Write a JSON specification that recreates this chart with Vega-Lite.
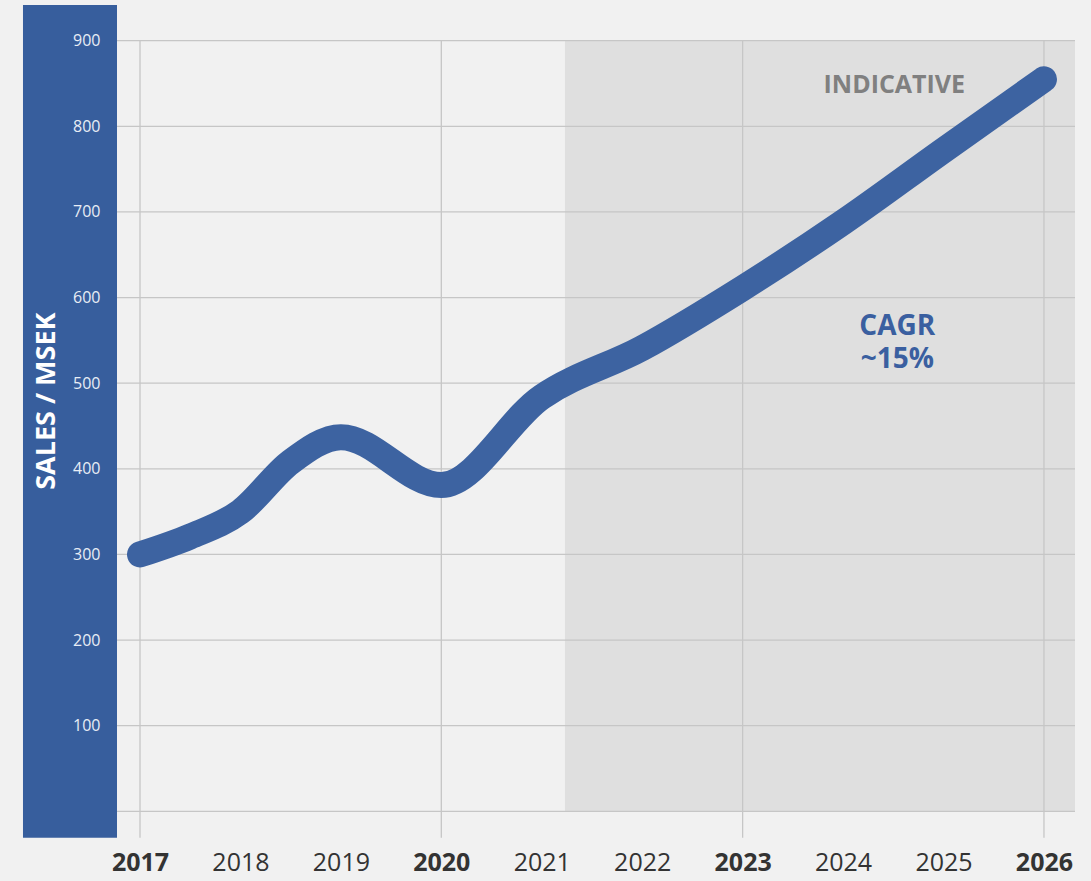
{
  "$schema": "https://vega.github.io/schema/vega-lite/v6.json",
  "autosize": {"type": "none"},
  "width": 958,
  "height": 797,
  "padding": {"left": 117, "top": 40.7, "right": 16, "bottom": 43.3},
  "background": "#f1f1f1",
  "config": {"view": {"stroke": null}, "font": "Open Sans"},
  "datasets": {
    "sales": [
      {"year": 2017, "sales": 300},
      {"year": 2017.5, "sales": 321},
      {"year": 2018, "sales": 350},
      {"year": 2018.5, "sales": 408},
      {"year": 2019, "sales": 437},
      {"year": 2020, "sales": 381},
      {"year": 2021, "sales": 484},
      {"year": 2022, "sales": 541},
      {"year": 2023, "sales": 611},
      {"year": 2024, "sales": 688},
      {"year": 2025, "sales": 772},
      {"year": 2026, "sales": 855}
    ],
    "hgrid": [
      {"v": 0}, {"v": 100}, {"v": 200}, {"v": 300}, {"v": 400},
      {"v": 500}, {"v": 600}, {"v": 700}, {"v": 800}, {"v": 900}
    ],
    "vgrid": [{"v": 2017}, {"v": 2020}, {"v": 2023}, {"v": 2026}],
    "notes": [
      {"label": "INDICATIVE", "x": 2024.51, "y": 839.5, "kind": "muted"},
      {"label": "CAGR\n~15%", "x": 2024.54, "y": 556.4, "kind": "accent"}
    ],
    "one": [{}]
  },
  "encoding": {
    "x": {
      "type": "quantitative",
      "scale": {"domain": [2016.771, 2026.309], "nice": false, "zero": false},
      "axis": {
        "values": [2017, 2018, 2019, 2020, 2021, 2022, 2023, 2024, 2025, 2026],
        "format": "d",
        "title": null,
        "grid": false,
        "domain": false,
        "ticks": false,
        "labelFontSize": 25,
        "labelColor": "#333333",
        "labelPadding": 13,
        "labelFontWeight": {"condition": {"test": "datum.value % 3 == 1", "value": "bold"}, "value": "normal"}
      }
    },
    "y": {
      "type": "quantitative",
      "scale": {"domain": [-30.8, 900], "nice": false, "zero": false},
      "axis": {
        "values": [100, 200, 300, 400, 500, 600, 700, 800, 900],
        "title": "SALES / MSEK",
        "titleFontSize": 27,
        "titleFontWeight": "bold",
        "titleColor": "#ffffff",
        "titleAngle": -90,
        "titleAlign": "center",
        "titleBaseline": "middle",
        "titleX": -71,
        "titleY": 360,
        "grid": false,
        "domain": false,
        "ticks": false,
        "labelFontSize": 16,
        "labelColor": "#e8edf5",
        "labelPadding": 17,
        "zindex": 1
      }
    }
  },
  "layer": [
    {
      "data": {"name": "one"},
      "mark": {"type": "rect", "color": "#375e9d", "clip": false},
      "encoding": {
        "x": {"datum": 2015.835},
        "x2": {"datum": 2016.771},
        "y": {"datum": -30.8},
        "y2": {"datum": 941.7}
      }
    },
    {
      "data": {"name": "one"},
      "mark": {"type": "rect", "color": "#dfdfdf"},
      "encoding": {
        "x": {"datum": 2021.231},
        "x2": {"datum": 2026.309},
        "y": {"datum": 0},
        "y2": {"datum": 900}
      }
    },
    {
      "data": {"name": "hgrid"},
      "mark": {"type": "rule", "color": "#c6c6c6", "strokeWidth": 1.3},
      "encoding": {"y": {"field": "v", "type": "quantitative"}}
    },
    {
      "data": {"name": "vgrid"},
      "mark": {"type": "rule", "color": "#c6c6c6", "strokeWidth": 1.3},
      "encoding": {"x": {"field": "v", "type": "quantitative"}}
    },
    {
      "data": {"name": "sales"},
      "mark": {"type": "line", "color": "#3d63a1", "strokeWidth": 26, "strokeCap": "round", "strokeJoin": "round", "interpolate": "monotone"},
      "encoding": {
        "x": {"field": "year", "type": "quantitative"},
        "y": {"field": "sales", "type": "quantitative"}
      }
    },
    {
      "data": {"name": "notes"},
      "mark": {"type": "text", "fontWeight": "bold", "align": "center", "baseline": "alphabetic", "lineBreak": "\n", "lineHeight": 33},
      "encoding": {
        "x": {"field": "x", "type": "quantitative"},
        "y": {"field": "y", "type": "quantitative"},
        "text": {"field": "label"},
        "size": {
          "condition": {"test": "datum.kind == 'muted'", "value": 25},
          "value": 28
        },
        "color": {
          "condition": {"test": "datum.kind == 'muted'", "value": "#808080"},
          "value": "#3a5fa0"
        }
      }
    }
  ]
}
